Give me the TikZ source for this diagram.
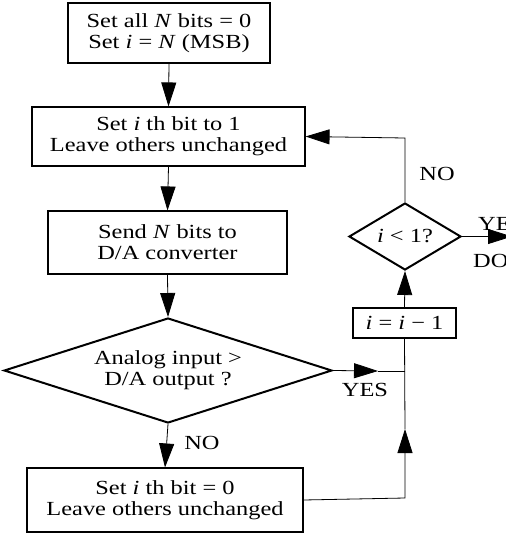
\documentclass[tikz,border=0pt]{standalone}
\usepackage{fontspec}
\setmainfont{Liberation Serif}[FakeStretch=1.22]
\usetikzlibrary{shapes.geometric,arrows.meta}
\begin{document}
\begin{tikzpicture}[x=1pt,y=-1pt,
  font=\fontsize{20}{21}\selectfont,
  box/.style={draw,line width=1.1pt,rectangle,inner sep=0pt,align=center},
  dia/.style={draw,line width=2pt,diamond,inner sep=0pt,align=center},
  conn/.style={line width=0.8pt},
  arr/.style={conn,-{Triangle[length=24pt,width=15pt]}},
  lbl/.style={inner sep=0pt}]
\clip (0,0) rectangle (506,533);
\useasboundingbox (0,0) rectangle (506,533);
\node[box,minimum width=202pt,minimum height=60pt] (b1) at (169,33)
  {Set all \textit{N} bits = 0\\Set \textit{i} = \textit{N} (MSB)};
\node[box,minimum width=273pt,minimum height=59pt] (b2) at (168.5,136.5)
  {Set \textit{i} th bit to 1\\Leave others unchanged};
\node[box,minimum width=239pt,minimum height=63pt] (b3) at (167.5,242.5)
  {Send \textit{N} bits to\\D/A converter};
\node[dia,aspect=3.1,minimum width=328pt,minimum height=105pt] (d1) at (168,370.5)
  {Analog input >\\D/A output ?};
\node[box,minimum width=276pt,minimum height=64pt] (b4) at (165,500)
  {Set \textit{i} th bit = 0\\Leave others unchanged};
\node[box,minimum width=103pt,minimum height=30pt] (b5) at (404.5,323)
  {\textit{i} = \textit{i} − 1};
\node[dia,aspect=1.67,minimum width=112pt,minimum height=67pt] (d2) at (405,236.5)
  {\textit{i} < 1?};
\coordinate (jy) at (405,371);
\coordinate (ya) at (378,371);
\coordinate (jb) at (405,498);
\coordinate (ua) at (405,429);
\coordinate (tn) at (405,138);
\coordinate (out) at (512,236.5);
\draw[arr] (b1.south) -- (b2.north);
\draw[arr] (b2.south) -- (b3.north);
\draw[arr] (b3.south) -- (d1.north);
\draw[arr] (d1.south) -- (b4.north);
\draw[arr] (d1.east) -- (ya);
\draw[conn] (ya) -- (jy);
\draw[arr] (b4.east) -- (jb) -- (ua);
\draw[conn] (ua) -- (b5.south);
\draw[arr] (b5.north) -- (d2.south);
\draw[arr] (d2.north) -- (tn) -- (b2.east);
\draw[arr] (d2.east) -- (out);
\node[lbl] (no1) at (202,443) {NO};
\node[lbl] (yes1) at (365,390) {YES};
\node[lbl] (no2) at (437,174) {NO};
\node[lbl,anchor=west] (yes2) at (478,224) {YES};
\node[lbl,anchor=west] (done) at (473,261) {DONE};
\end{tikzpicture}
\end{document}
